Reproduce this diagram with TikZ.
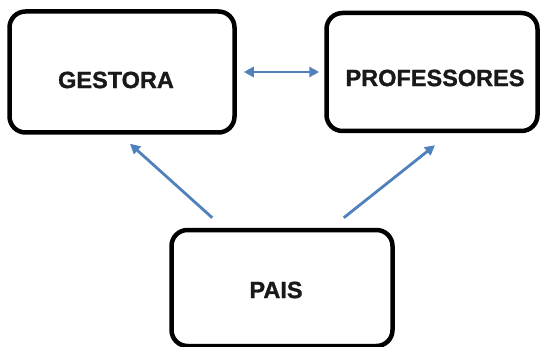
\documentclass[tikz,border=0pt]{standalone}
\usepackage{fontspec}
\setmainfont{Liberation Sans}[BoldFeatures={FakeBold=1.2}]
\usetikzlibrary{arrows.meta}
\definecolor{arrblue}{HTML}{4F81BD}
\tikzset{
  box/.style={draw=black, line width=4.5pt, rounded corners=16pt, fill=white},
  boxtext/.style={font=\fontsize{23.5}{28}\selectfont\bfseries, text=black!90},
  arr/.style={draw=arrblue, line width=2.8pt, -{Triangle[length=10pt,width=10pt]}},
  darr/.style={draw=arrblue, line width=2.8pt, {Triangle[length=10pt,width=10pt]}-{Triangle[length=10pt,width=10pt]}}
}
\begin{document}
\begin{tikzpicture}[x=1pt,y=-1pt]
\useasboundingbox (0,0) rectangle (540,347);
\fill[white] (0,0) rectangle (540,347);
\node[box, minimum width=225pt, minimum height=121pt] (g) at (122,72) {};
\node[boxtext] (gt) at (116,80) {GESTORA};
\node[box, minimum width=211pt, minimum height=118pt] (p) at (432,72) {};
\node[boxtext] (pt) at (435,78) {PROFESSORES};
\node[box, minimum width=221pt, minimum height=116pt] (a) at (282,288) {};
\node[boxtext] (at) at (276,290) {PAIS};
\draw[darr] ([xshift=7pt]g.east) -- ([xshift=-5pt]p.west);
\draw[arr] ([xshift=43pt,yshift=10pt]a.north west) -- ([xshift=8pt,yshift=-9pt]g.south);
\draw[arr] ([xshift=-51pt,yshift=10pt]a.north east) -- ([xshift=3pt,yshift=-12pt]p.south);
\end{tikzpicture}
\end{document}
